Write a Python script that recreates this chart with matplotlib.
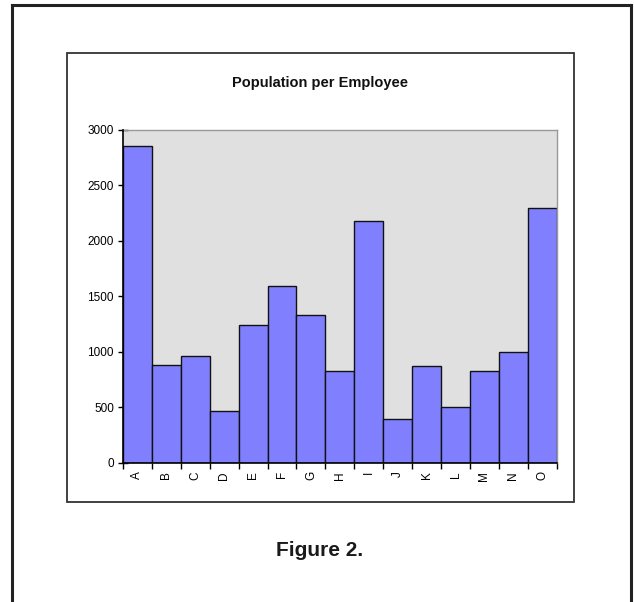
import matplotlib
matplotlib.use("Agg")
import matplotlib.pyplot as plt
from matplotlib.lines import Line2D
from matplotlib.patches import Rectangle
import numpy as np

categories = ["A", "B", "C", "D", "E", "F", "G", "H", "I", "J", "K", "L", "M", "N", "O"]
population_per_employee = [2855, 885, 960, 465, 1245, 1595, 1330, 825, 2180, 395, 875, 505, 825, 995, 2300]
y_ticks = [0, 500, 1000, 1500, 2000, 2500, 3000]

plt.rcParams["font.family"] = ["Liberation Sans", "DejaVu Sans"]

W, H = 634, 602
fig = plt.figure(figsize=(W / 100, H / 100), dpi=100)
fig.patch.set_facecolor("white")

# outer frame (open at the bottom)
frame_kw = dict(color="#222222", linewidth=2.2, transform=fig.transFigure)
x0, x1, y_top = 12 / W, 631 / W, 1 - 5 / H
fig.add_artist(Line2D([x0, x0], [0, y_top], **frame_kw))
fig.add_artist(Line2D([x0, x1], [y_top, y_top], **frame_kw))
fig.add_artist(Line2D([x1, x1], [0, y_top], **frame_kw))

# chart box
bx0, bx1 = 67 / W, 574 / W
by0, by1 = 1 - 502 / H, 1 - 53 / H
fig.add_artist(Rectangle((bx0, by0), bx1 - bx0, by1 - by0, transform=fig.transFigure,
                         facecolor="none", edgecolor="#333333", linewidth=1.3))

left, right = 123 / W, 556.7 / W
bottom, top = 1 - 462.7 / H, 1 - 130 / H
ax = fig.add_axes([left, bottom, right - left, top - bottom])
ax.set_facecolor("#e0e0e0")

x = np.arange(len(categories))
ax.bar(x, population_per_employee, width=1.0, color="#8080ff", edgecolor="#111111",
       linewidth=1.0, zorder=2)

ax.set_xlim(-0.5, len(categories) - 0.5)
ax.set_ylim(0, 3000)

ax.set_yticks(y_ticks)
ax.set_yticklabels([str(v) for v in y_ticks], fontsize=8.5)
ax.tick_params(axis="y", direction="inout", length=7, width=1.0, color="black", pad=3)

# tick marks between categories, labels centred on each bar
ax.set_xticks(np.arange(len(categories) + 1) - 0.5)
ax.set_xticklabels([])
ax.tick_params(axis="x", which="major", direction="out", length=4, width=1.0, color="black")
ax.set_xticks(x, minor=True)
ax.set_xticklabels(categories, minor=True, rotation=90, fontsize=8.5)
ax.tick_params(axis="x", which="minor", length=0, pad=6)

for side in ("top", "right"):
    ax.spines[side].set_color("#999999")
    ax.spines[side].set_linewidth(1.0)
for side in ("left", "bottom"):
    ax.spines[side].set_color("black")
    ax.spines[side].set_linewidth(1.2)
    ax.spines[side].set_zorder(3)

fig.text(320.5 / W, 1 - 83 / H, "Population per Employee", ha="center", va="center",
         fontsize=10.5, fontweight="bold", color="#111111")
fig.text(320 / W, 1 - 551 / H, "Figure 2.", ha="center", va="center",
         fontsize=15, fontweight="bold", color="#1a1a1a")

fig.savefig("out.png", dpi=100)
